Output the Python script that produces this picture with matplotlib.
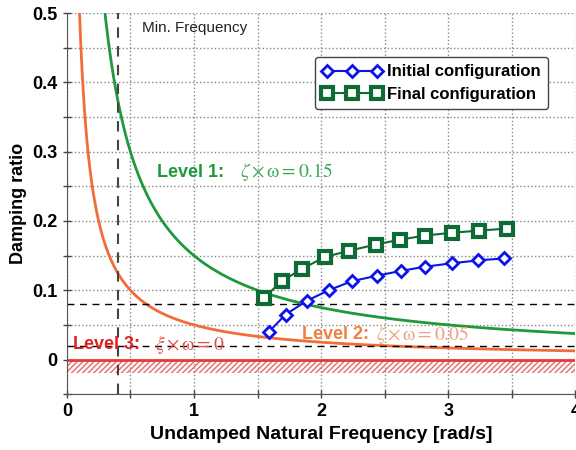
import numpy as np
import matplotlib
matplotlib.use('Agg')
import matplotlib.pyplot as plt
from matplotlib.ticker import MultipleLocator

plt.rcParams['font.family'] = ['Liberation Sans', 'DejaVu Sans']
plt.rcParams['mathtext.fontset'] = 'stix'

# data
init_w = [1.59, 1.72, 1.89, 2.06, 2.24, 2.44, 2.63, 2.82, 3.03, 3.23, 3.44]
init_z = [0.040, 0.065, 0.085, 0.100, 0.113, 0.121, 0.128, 0.134, 0.139, 0.143, 0.146]
final_w = [1.55, 1.69, 1.85, 2.03, 2.22, 2.43, 2.62, 2.82, 3.03, 3.24, 3.46]
final_z = [0.089, 0.113, 0.131, 0.148, 0.157, 0.166, 0.173, 0.179, 0.183, 0.186, 0.189]
level1 = 0.15
level2 = 0.05
min_freq = 0.4
h_lines = [0.08, 0.02]

fig = plt.figure(figsize=(5.76, 4.5), dpi=100)
ax = fig.add_axes([0.116, 0.124, 0.883, 0.847])

w = np.linspace(0.05, 4, 400)
ax.plot(w, level1 / w, color='#1e9a3c', lw=2)
ax.plot(w, level2 / w, color='#f26c3a', lw=2)

ax.axhline(0, color='#e8383a', lw=2)
ax.fill_between([0, 4], -0.02, 0, facecolor='none', edgecolor='#e8686a', hatch='//////', lw=0)
for h in h_lines:
    ax.axhline(h, color='black', ls=(0, (5, 4)), lw=1)
ax.axvline(min_freq, color='#444444', ls=(0, (5, 4)), lw=1.5)

ax.plot(init_w, init_z, color='#0a14e6', lw=1.5, marker='D', ms=6,
        mfc='white', mec='#0a14e6', mew=2, label='Initial configuration')
ax.plot(final_w, final_z, color='#0f6b35', lw=1.5, marker='s', ms=9,
        mfc='white', mec='#0f6b35', mew=3, label='Final configuration')

ax.text(0.59, 0.478, 'Min. Frequency', fontsize=11, color='#222222', va='center')
ax.text(0.71, 0.27, 'Level 1:', fontsize=13, fontweight='bold', color='#1e9a3c', va='center')
ax.text(1.36, 0.27, r'$\zeta \times \mathrm{\omega} = 0.15$', fontsize=14, color='#3aaa55',
        va='center')
ax.text(1.85, 0.036, 'Level 2:', fontsize=13, fontweight='bold', color='#f08040', va='center')
ax.text(2.43, 0.036, r'$\zeta \times \mathrm{\omega} = 0.05$', fontsize=14, color='#f0a080',
        va='center')
ax.text(0.05, 0.021, 'Level 3:', fontsize=13, fontweight='bold', color='#e02020', va='center')
ax.text(0.69, 0.021, r'$\xi \times \mathrm{\omega} = 0$', fontsize=14, color='#e05050',
        va='center')

ax.set_xlim(0, 4)
ax.set_ylim(-0.05, 0.5)
ax.xaxis.set_major_locator(MultipleLocator(1))
ax.xaxis.set_minor_locator(MultipleLocator(0.5))
ax.set_yticks([0, 0.1, 0.2, 0.3, 0.4, 0.5])
ax.set_yticklabels(['0', '0.1', '0.2', '0.3', '0.4', '0.5'])
ax.yaxis.set_minor_locator(MultipleLocator(0.05))
ax.grid(which='both', color='#888888', ls=':', lw=1)
ax.set_axisbelow(True)
ax.tick_params(which='both', direction='inout', length=6, width=1, colors='#444444')
ax.tick_params(labelsize=13, labelcolor='black')
for lab in ax.get_xticklabels() + ax.get_yticklabels():
    lab.set_fontweight('bold')
ax.spines['top'].set_visible(False)
ax.spines['right'].set_visible(False)
ax.spines['left'].set_color('#555555')
ax.spines['bottom'].set_color('#555555')

ax.set_xlabel('Undamped Natural Frequency [rad/s]', fontsize=14, fontweight='bold')
ax.set_ylabel('Damping ratio', fontsize=13, fontweight='bold')

leg = ax.legend(loc='upper left', bbox_to_anchor=(0.487, 0.885),
                prop={'weight': 'bold', 'size': 12}, handlelength=3.6, numpoints=3,
                borderpad=0.45, labelspacing=0.45, handletextpad=0.3,
                borderaxespad=0, fancybox=True, framealpha=1, edgecolor='#444444')

fig.savefig('out.png', dpi=100)
